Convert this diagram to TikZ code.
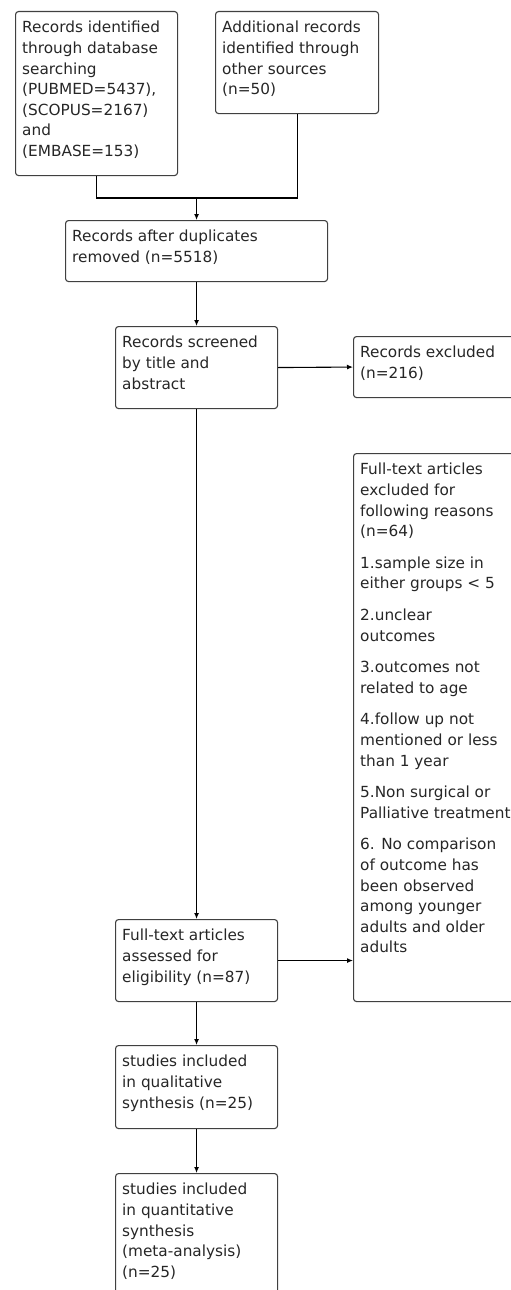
\documentclass[tikz,border=0pt]{standalone}
\usepackage{fontspec}
\setmainfont{DejaVu Sans}
\usetikzlibrary{arrows.meta, calc, positioning}
\tikzset{
    flowBox/.style={rectangle, draw=black!75, line width=1.1pt, rounded corners=3pt, anchor=north west, inner sep=0pt},
    flowText/.style={anchor=north west, align=left, inner sep=0pt, text=black!85, font=\fontsize{15.3}{20.6}\selectfont},
    flowEdge/.style={->, >={Latex[length=6pt, width=5pt]}, line width=1.1pt},
    flowLine/.style={line width=1.1pt},
}
\newcommand{\drawBox}[5]{
    % frame first, then its text in the top left corner
    \node[flowBox, minimum width=#3, minimum height=#4] (#1) at (#2) {};
    \node[flowText] (#1text) at ($(#1.north west)+(7,10)$) {#5};
}

\begin{document}
\begin{tikzpicture}[x=1pt, y=-1pt]

    \useasboundingbox (0,0) rectangle (511,1290);

    % identification
    \drawBox{ident}{15,11}{162pt}{164pt}{Records identified\\through database\\searching\\(PUBMED=5437),\\(SCOPUS=2167)\\and\\(EMBASE=153)}
    \drawBox{other}{215,11}{163pt}{102pt}{Additional records\\identified through\\other sources\\(n=50)}
    \drawBox{dup}{65,220}{262pt}{61pt}{Records after duplicates\\removed (n=5518)}

    % screening
    \drawBox{screen}{115,326}{162pt}{82pt}{Records screened\\by title and\\abstract}
    \drawBox{excl}{353,336}{170pt}{61pt}{Records excluded\\(n=216)}

    % eligibility
    \drawBox{ftexcl}{353,453}{170pt}{548pt}{Full-text articles\\excluded for\\following reasons\\(n=64)\\[11pt]1.sample size in\\either groups < 5\\[11pt]2.unclear\\outcomes\\[11pt]3.outcomes not\\related to age\\[11pt]4.follow up not\\mentioned or less\\than 1 year\\[11pt]5.Non surgical or\\Palliative treatment\\[11pt]6. No comparison\\of outcome has\\been observed\\among younger\\adults and older\\adults}
    \drawBox{assess}{115,919}{162pt}{82pt}{Full-text articles\\assessed for\\eligibility (n=87)}

    % included
    \drawBox{qual}{115,1045}{162pt}{83pt}{studies included\\in qualitative\\synthesis (n=25)}
    \drawBox{quant}{115,1173}{162pt}{130pt}{studies included\\in quantitative\\synthesis\\(meta-analysis)\\(n=25)}

    \coordinate (merge) at ($(dup.north)+(0,-22)$);
    \draw[flowLine] (ident.south) |- (merge) -| (other.south);
    \draw[flowEdge] (merge) -- (dup.north);
    \draw[flowEdge] (dup.south) -- (screen.north);
    \draw[flowEdge] (screen.east) -- (excl.west);
    \draw[flowEdge] (screen.south) -- (assess.north);
    \draw[flowEdge] (assess.east) -- (assess.east -| ftexcl.west);
    \draw[flowEdge] (assess.south) -- (qual.north);
    \draw[flowEdge] (qual.south) -- (quant.north);

\end{tikzpicture}
\end{document}
